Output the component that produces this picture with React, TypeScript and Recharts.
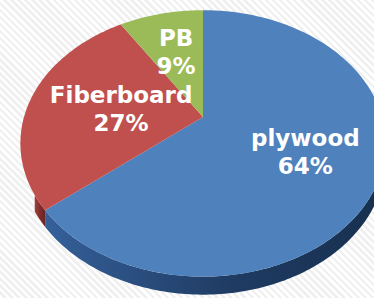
import React from "react";
import { PieChart, Pie } from "recharts";

// ─── Data ──────────────────────────────────────────────────────────────────
const NAMES = ["plywood", "Fiberboard", "PB"];
const SHARES = [64, 27, 9];

// ─── Styles ────────────────────────────────────────────────────────────────
const TOP_COLORS = ["#4f81bd", "#c0504d", "#9bbb59"];
const SIDE_COLORS = [
  ["#35609a", "#1f3b62", "#17304f"],
  ["#a13f3c", "#7d2c2a", "#6a2422"],
  ["#7a9944", "#5d7531", "#4d6228"],
];
const LABEL_RADIUS = [0.6, 0.47, 0.6];

const data = NAMES.map((name, i) => ({ name, value: SHARES[i] }));

// tilted disc seen in perspective
const DEPTH = 0.198; // perspective strength
const TILT = 0.715; // vertical squash
const THICK = 14.5; // side height in px (at the centre depth)
const FRONT_FROM = (Math.acos(-DEPTH) * 180) / Math.PI;
const FRONT_TO = 237; // left part of the wall is hidden by the view angle

const FONT = "'DejaVu Sans', Verdana, sans-serif";

function project(cx: number, cy: number, R: number, r: number, phi: number) {
  const a = (phi * Math.PI) / 180;
  const X = r * Math.sin(a);
  const Z = r * Math.cos(a);
  const w = 1 + DEPTH * Z;
  return { x: cx + (R * X) / w, y: cy - (R * TILT * Z) / w, w };
}

function rim(cx: number, cy: number, R: number, from: number, to: number) {
  const pts: { x: number; y: number; w: number }[] = [];
  const steps = Math.max(2, Math.ceil(Math.abs(to - from)));
  for (let s = 0; s <= steps; s++) {
    pts.push(project(cx, cy, R, 1, from + ((to - from) * s) / steps));
  }
  return pts;
}

// recharts angle (ccw from 3 o'clock) -> clockwise from 12 o'clock
const toPhi = (deg: number) => 90 - deg;

// eslint-disable-next-line @typescript-eslint/no-explicit-any
function renderSlice(props: any) {
  const { cx, cy, outerRadius, startAngle, endAngle, index } = props;
  const a = toPhi(startAngle);
  const b = toPhi(endAngle);
  const top = rim(cx, cy, outerRadius, a, b);
  const face =
    `M${cx},${cy} ` + top.map((p) => `L${p.x.toFixed(2)},${p.y.toFixed(2)}`).join(" ") + " Z";

  let side: string | null = null;
  const s0 = Math.max(a, FRONT_FROM);
  const s1 = Math.min(b, FRONT_TO);
  if (s1 > s0) {
    const upper = rim(cx, cy, outerRadius, s0, s1);
    const lower = [...upper].reverse().map((p) => ({ x: p.x, y: p.y + THICK / p.w }));
    side =
      "M" +
      upper.map((p) => `${p.x.toFixed(2)},${p.y.toFixed(2)}`).join(" L") +
      " L" +
      lower.map((p) => `${p.x.toFixed(2)},${p.y.toFixed(2)}`).join(" L") +
      " Z";
  }
  const gid = `side-grad-${index}`;
  const sc = SIDE_COLORS[index];
  return (
    <g key={`slice-${index}`}>
      <defs>
        <linearGradient id={gid} x1="0" y1="0" x2="1" y2="0">
          <stop offset="0%" stopColor={sc[0]} />
          <stop offset="55%" stopColor={sc[1]} />
          <stop offset="100%" stopColor={sc[2]} />
        </linearGradient>
      </defs>
      {side && <path d={side} fill={`url(#${gid})`} stroke="none" />}
      <path d={face} fill={TOP_COLORS[index]} stroke="none" />
    </g>
  );
}

// eslint-disable-next-line @typescript-eslint/no-explicit-any
function renderLabel(props: any) {
  const { cx, cy, outerRadius, midAngle, index, percent, name } = props;
  const p = project(cx, cy, outerRadius, LABEL_RADIUS[index], toPhi(midAngle));
  return (
    <text
      key={`label-${index}`}
      x={p.x}
      y={p.y}
      textAnchor="middle"
      fill="#ffffff"
      fontFamily={FONT}
      fontWeight="bold"
      fontSize={23}
    >
      <tspan x={p.x} y={p.y - 5}>
        {name}
      </tspan>
      <tspan x={p.x} y={p.y + 23}>
        {`${Math.round(percent * 100)}%`}
      </tspan>
    </text>
  );
}

export default function App() {
  return (
    <div
      style={{
        position: "absolute",
        left: 0,
        top: 0,
        width: 374,
        height: 298,
        backgroundColor: "#ffffff",
        backgroundImage:
          "repeating-linear-gradient(45deg, #ffffff 0px, #ffffff 2.5px, #f0f0f0 2.5px, #f0f0f0 5px)",
      }}
    >
      <PieChart width={374} height={298} margin={{ top: 0, right: 0, bottom: 0, left: 0 }}>
        {/* shapes: the perspective disc, drawn from the computed sector angles */}
        <Pie
          data={data}
          dataKey="value"
          nameKey="name"
          cx={203}
          cy={117}
          outerRadius={179}
          startAngle={90}
          endAngle={-270}
          fill="none"
          stroke="none"
          label={renderSlice}
          labelLine={false}
          isAnimationActive={false}
        />
        {/* texts on top of every slice */}
        <Pie
          data={data}
          dataKey="value"
          nameKey="name"
          cx={203}
          cy={117}
          outerRadius={179}
          startAngle={90}
          endAngle={-270}
          fill="none"
          stroke="none"
          label={renderLabel}
          labelLine={false}
          isAnimationActive={false}
        />
      </PieChart>
    </div>
  );
}
